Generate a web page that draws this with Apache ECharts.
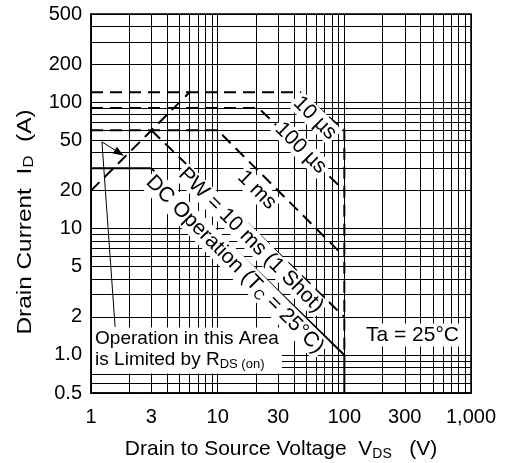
<!DOCTYPE html>
<html><head><meta charset="utf-8">
<script src="https://cdn.jsdelivr.net/npm/echarts@6/dist/echarts.min.js"></script>
<style>html,body{margin:0;padding:0;background:#fff}#c{width:509px;height:463px}</style>
</head><body><div id="c"></div>
<script>
// ---- data ----
const xGrid = [1,2,3,4,5,6,7,8,9,10,20,30,40,50,60,70,80,90,100,200,300,400,500,600,700,800,900,1000];
const xLabels = [1,3,10,30,100,300,1000];
const yGrid = [0.5,0.6,0.7,0.8,0.9,1,2,3,4,5,6,7,8,9,10,20,30,40,50,60,70,80,90,100,200,300,400,500];
const yLabels = [0.5,1,2,5,10,20,50,100,200,500];
const rdsLimit   = [[1,20],[6,120]];
const pulse10us  = [[1,120],[45,120],[100,60],[100,1]];
const pulse100us = [[1,90],[21,90],[100,20]];
const pulse1ms   = [[1,60],[10,60],[100,6]];
const pw10ms     = [[3,60],[100,2]];
const dcOp       = [[1,30],[3,30],[100,1],[100,0.5]];

const FONT = '"Liberation Sans", Arial, sans-serif';
const chart = echarts.init(document.getElementById('c'), null, {renderer:'canvas'});
function line(name, data, ls){
  return {name, type:'line', data, symbol:'none', silent:true, z:5,
    lineStyle:Object.assign({color:'#000', width:2}, ls||{})};
}
chart.setOption({
  animation:false,
  backgroundColor:'#fff',
  grid:{left:91, top:14, width:380, height:379, show:false},
  xAxis:{type:'log', logBase:10, min:1, max:1000,
    axisLine:{show:true, onZero:false, lineStyle:{color:'#000', width:1.5}},
    axisTick:{show:false, customValues:xGrid},
    axisLabel:{customValues:xLabels, color:'#000', fontSize:20, fontFamily:FONT, margin:14,
      formatter:v=> v>=1000 ? '1,000' : String(v)},
    splitLine:{show:true, lineStyle:{color:'#000', width:1}}},
  yAxis:{type:'log', logBase:10, min:0.5, max:500,
    axisLine:{show:true, onZero:false, lineStyle:{color:'#000', width:1.5}},
    axisTick:{show:false, customValues:yGrid},
    axisLabel:{customValues:yLabels, color:'#000', fontSize:20, fontFamily:FONT, margin:9,
      formatter:v=> v===1 ? '1.0' : String(v)},
    splitLine:{show:true, lineStyle:{color:'#000', width:1}}},
  series:[
    line('RDS(on) limit', rdsLimit, {type:[12,7]}),
    line('10 µs', pulse10us, {type:[12,7]}),
    line('100 µs', pulse100us, {type:[12,7]}),
    line('1 ms', pulse1ms, {type:[12,7]}),
    line('PW = 10 ms (1 Shot)', pw10ms, {type:[12,7]}),
    line('DC Operation', dcOp, {width:2})
  ]
});

// ---- annotations positioned through the axes ----
const curveLabels = [
  {text:'10 µs', at:[58.6,75]},
  {text:'100 µs', at:[45.4,43.5]},
  {text:'1 ms', at:[20.4,20.2]},
  {text:'PW = 10 ms (1 Shot)', at:[18.3,8.1]},
  {text:'DC Operation ({n|T}{s|C}{n| = 25°C})', at:[13.7,5.2]}
];
const px = p => chart.convertToPixel({gridIndex:0}, p);
const LF = 21;
const rich = {
  n:{fontSize:LF, fontFamily:FONT, fill:'#000', lineHeight:24},
  s:{fontSize:14, fontFamily:FONT, fill:'#000', lineHeight:24, verticalAlign:'bottom', padding:[10,0,0,0]}
};
const subRich = fs => ({s:{fontSize:14, fontFamily:FONT, fill:'#000', verticalAlign:'bottom', padding:[10,0,0,0], lineHeight:fs+3}});
const g = [];
curveLabels.forEach(l=>{
  const p = px(l.at);
  g.push({type:'text', x:p[0], y:p[1], rotation:-Math.PI/4, z:100,
    style:{text:l.text, font:LF+'px '+FONT, fill:'#000', align:'center', verticalAlign:'middle',
      backgroundColor:'#fff', padding:[0,2], rich}});
});
// Ta box
const ta = px([345,1.44]);
g.push({type:'text', x:ta[0], y:ta[1], z:100,
  style:{text:'Ta = 25°C', font:'21px '+FONT, fill:'#000', align:'center', verticalAlign:'middle',
    backgroundColor:'#fff', padding:[1,3]}});
// Operation box
const op = px([1.02,1.65]);
g.push({type:'text', x:op[0], y:op[1], z:100,
  style:{text:'Operation in this Area\nis Limited by R{s|DS (on)}', font:'19px '+FONT, fill:'#000',
    align:'left', verticalAlign:'top', backgroundColor:'#fff', padding:[1,3,3,3], lineHeight:21,
    rich:{s:{fontSize:13, fontFamily:FONT, fill:'#000', verticalAlign:'bottom', padding:[10,0,0,0], lineHeight:21}}}});
// arrow leader
const a1 = px([1.55,1.67]), a2 = px([1.22,48.6]), tip = px([1.8,38]);
g.push({type:'polyline', z:90, shape:{points:[a1,a2,tip]}, style:{stroke:'#000', lineWidth:1, fill:null}});
const ang = Math.atan2(tip[1]-a2[1], tip[0]-a2[0]);
const L=10, W=4;
const bx = tip[0]-L*Math.cos(ang), by = tip[1]-L*Math.sin(ang);
g.push({type:'polygon', z:91, shape:{points:[tip,[bx+W*Math.sin(ang), by-W*Math.cos(ang)],[bx-W*Math.sin(ang), by+W*Math.cos(ang)]]},
  style:{fill:'#000'}});
// axis titles
g.push({type:'text', x:25, y:222, rotation:Math.PI/2, scaleX:1.22, z:100,
  style:{text:'Drain Current  I{s|D}  (A)', font:'20px '+FONT, fill:'#000', align:'center', verticalAlign:'middle',
    rich:subRich(20)}});
g.push({type:'text', x:281, y:449, z:100,
  style:{text:'Drain to Source Voltage  V{s|DS}   (V)', font:'21px '+FONT, fill:'#000', align:'center', verticalAlign:'middle',
    rich:subRich(21)}});
// frame
const tl = px([1,500]), br = px([1000,0.5]);
g.push({type:'rect', z:95, shape:{x:tl[0], y:tl[1], width:br[0]-tl[0], height:br[1]-tl[1]},
  style:{stroke:'#000', lineWidth:1.5, fill:null}});
chart.setOption({graphic:g});
</script></body></html>
